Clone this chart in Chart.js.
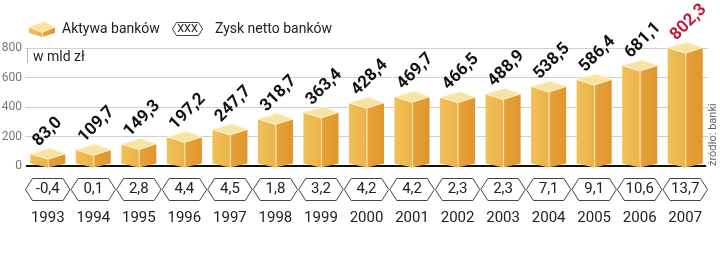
<!DOCTYPE html>
<html><head><meta charset="utf-8">
<script src="https://cdn.jsdelivr.net/npm/chart.js@4.4.0/dist/chart.umd.min.js"></script>
<style>html,body{margin:0;padding:0;background:#fff;}#wrap{width:720px;height:273px;}</style>
</head><body><div id="wrap"><canvas id="c" width="720" height="273"></canvas></div>
<script>
const years = ['1993','1994','1995','1996','1997','1998','1999','2000','2001','2002','2003','2004','2005','2006','2007'];
const assets = [83.0,109.7,149.3,197.2,247.7,318.7,363.4,428.4,469.7,466.5,488.9,538.5,586.4,681.1,802.3];
const profit = [-0.4,0.1,2.8,4.4,4.5,1.8,3.2,4.2,4.2,2.3,2.3,7.1,9.1,10.6,13.7];
const yTicks = [0,200,400,600,800];
const legendLabels = ['Aktywa banków','Zysk netto banków'];
const unitLabel = 'w mld zł';
const sourceLabel = 'źródło: banki';

const fmt = v => v.toFixed(1).replace('.', ',');
const FONT = 'Roboto, "Noto Sans", sans-serif';

function drawBox(ctx, cx, yv, base, w) {
  const L = cx - w/2, R = cx + w/2, d = 5.5;
  ctx.beginPath();
  ctx.moveTo(L, yv); ctx.lineTo(cx, yv + d); ctx.lineTo(cx, base + 2); ctx.lineTo(L, base - 2); ctx.closePath();
  let g = ctx.createLinearGradient(L, 0, cx, 0);
  g.addColorStop(0, '#f1c059'); g.addColorStop(1, '#ebb348');
  ctx.fillStyle = g; ctx.fill();
  ctx.beginPath();
  ctx.moveTo(cx, yv + d); ctx.lineTo(R, yv); ctx.lineTo(R, base - 2); ctx.lineTo(cx, base + 2); ctx.closePath();
  g = ctx.createLinearGradient(cx, 0, R, 0);
  g.addColorStop(0, '#e7a23a'); g.addColorStop(1, '#e0962c');
  ctx.fillStyle = g; ctx.fill();
  ctx.beginPath();
  ctx.moveTo(L, yv); ctx.lineTo(cx + 2, yv - d); ctx.lineTo(R, yv); ctx.lineTo(cx, yv + d); ctx.closePath();
  ctx.fillStyle = '#f9e3a3'; ctx.fill();
  ctx.strokeStyle = 'rgba(255,248,220,0.8)'; ctx.lineWidth = 1; ctx.stroke();
  ctx.beginPath(); ctx.moveTo(cx + 0.5, yv + d); ctx.lineTo(cx + 0.5, base + 2);
  ctx.strokeStyle = 'rgba(255,245,215,0.85)'; ctx.stroke();
}

function hexPath(ctx, x1, x2, y1, y2, inset) {
  const ym = (y1 + y2) / 2;
  ctx.beginPath();
  ctx.moveTo(x1, ym); ctx.lineTo(x1 + inset, y1); ctx.lineTo(x2 - inset, y1);
  ctx.lineTo(x2, ym); ctx.lineTo(x2 - inset, y2); ctx.lineTo(x1 + inset, y2); ctx.closePath();
}

const decor = {
  id: 'decor',
  beforeDraw(chart) {
    const ctx = chart.ctx;
    ctx.save(); ctx.fillStyle = '#fff'; ctx.fillRect(0, 0, chart.width, chart.height); ctx.restore();
  },
  beforeDatasetsDraw(chart) {
    const ctx = chart.ctx, ca = chart.chartArea, ys = chart.scales.y;
    ctx.save();
    ctx.strokeStyle = '#b5b5b5'; ctx.lineWidth = 1;
    ctx.beginPath(); ctx.moveTo(27.5, ys.getPixelForValue(800)); ctx.lineTo(27.5, ys.getPixelForValue(800) + 15); ctx.stroke();
    const y0 = ys.getPixelForValue(0);
    ctx.strokeStyle = '#111'; ctx.lineWidth = 2;
    ctx.beginPath(); ctx.moveTo(26, y0); ctx.lineTo(ca.right - 2, y0); ctx.stroke();
    ctx.fillStyle = '#222'; ctx.font = '14px ' + FONT; ctx.textBaseline = 'alphabetic'; ctx.textAlign = 'left';
    ctx.fillText(unitLabel, 33, 61);
    ctx.restore();
  },
  afterDatasetsDraw(chart) {
    const ctx = chart.ctx, ys = chart.scales.y, xs = chart.scales.x;
    const meta = chart.getDatasetMeta(0);
    ctx.save();
    meta.data.forEach((el) => drawBox(ctx, el.x, el.y, el.base, el.width));
    meta.data.forEach((el, i) => {
      ctx.save();
      ctx.translate(el.x - 9, el.y - 7);
      ctx.rotate(-Math.PI / 4);
      ctx.font = 'bold 17px Roboto, "Noto Sans", sans-serif';
      ctx.fillStyle = i === assets.length - 1 ? '#c21a3d' : '#111';
      ctx.textAlign = 'left'; ctx.textBaseline = 'alphabetic';
      ctx.fillText(fmt(assets[i]), 0, 0);
      ctx.restore();
    });
    const step = xs.getPixelForValue(1) - xs.getPixelForValue(0);
    profit.forEach((p, i) => {
      const cx = xs.getPixelForValue(i);
      hexPath(ctx, cx - step/2 + 0.5, cx + step/2 - 0.5, 178.5, 200.5, 7);
      ctx.strokeStyle = '#444'; ctx.lineWidth = 1; ctx.stroke();
      ctx.fillStyle = '#222'; ctx.font = '15px ' + FONT; ctx.textAlign = 'center'; ctx.textBaseline = 'middle';
      ctx.fillText(fmt(p), cx, 189.5);
    });
    drawBox(ctx, 42, 27, 35, 26);
    ctx.fillStyle = '#222'; ctx.font = '14px ' + FONT; ctx.textAlign = 'left'; ctx.textBaseline = 'alphabetic';
    ctx.fillText(legendLabels[0], 62, 33);
    hexPath(ctx, 172.5, 202.5, 22.5, 35.5, 4);
    ctx.strokeStyle = '#444'; ctx.lineWidth = 1; ctx.stroke();
    ctx.font = '11px ' + FONT; ctx.textAlign = 'center'; ctx.textBaseline = 'middle';
    ctx.fillText('XXX', 187.5, 29.5);
    ctx.font = '14px ' + FONT; ctx.textAlign = 'left'; ctx.textBaseline = 'alphabetic';
    ctx.fillText(legendLabels[1], 215, 33);
    ctx.save();
    ctx.translate(716, 166); ctx.rotate(-Math.PI / 2);
    ctx.font = '11px ' + FONT; ctx.fillStyle = '#666'; ctx.textAlign = 'left'; ctx.textBaseline = 'alphabetic';
    ctx.fillText(sourceLabel, 0, 0);
    ctx.restore();
    ctx.restore();
  }
};

new Chart(document.getElementById('c'), {
  type: 'bar',
  data: {
    labels: years,
    datasets: [{
      label: legendLabels[0],
      data: assets,
      backgroundColor: 'rgba(0,0,0,0)',
      borderWidth: 0,
      barPercentage: 0.77,
      categoryPercentage: 1.0
    }]
  },
  options: {
    responsive: false,
    animation: false,
    devicePixelRatio: 1,
    layout: { padding: { left: 0, top: 48, right: 12, bottom: 0 } },
    plugins: { legend: { display: false }, tooltip: { enabled: false } },
    scales: {
      x: {
        grid: { display: false, drawTicks: true, tickLength: 40 },
        border: { display: false },
        ticks: { color: '#222', font: { family: FONT, size: 15 }, padding: 3, maxRotation: 0, autoSkip: false },
        afterFit(s) { s.height = 107; }
      },
      y: {
        min: 0, max: 800,
        afterBuildTicks(s) { s.ticks = yTicks.map(v => ({ value: v })); },
        grid: { color: '#cfcfcf', drawTicks: false, lineWidth: 1 },
        border: { display: false },
        ticks: { color: '#777', font: { family: FONT, size: 12 }, padding: 3 },
        afterFit(s) { s.width = 25; }
      }
    }
  },
  plugins: [decor]
});
</script>
</body></html>
